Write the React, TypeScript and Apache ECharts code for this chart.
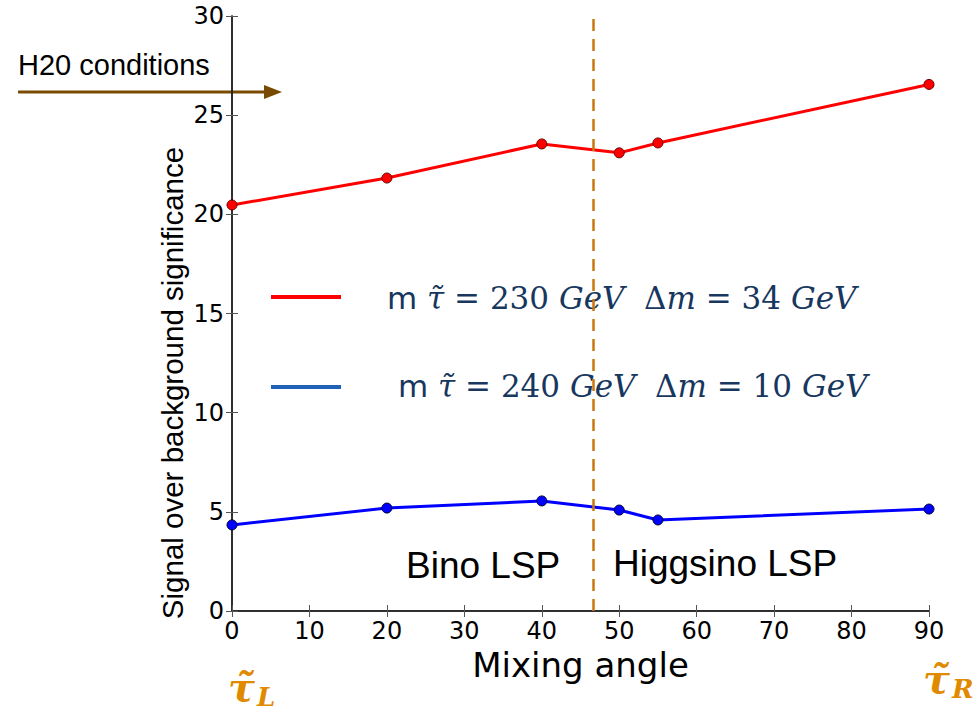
import React, { useEffect, useRef } from "react";
import * as echarts from "echarts";

const mixingAngles = [0, 20, 40, 50, 55, 90];
const sig230 = [20.47, 21.83, 23.55, 23.1, 23.6, 26.55];
const sig240 = [4.34, 5.19, 5.55, 5.09, 4.59, 5.14];
const xTicks = [0, 10, 20, 30, 40, 50, 60, 70, 80, 90];
const yTicks = [0, 5, 10, 15, 20, 25, 30];
const boundaryAngle = 46.7;
const legend230 = "m τ̃ = 230 GeV  Δm = 34 GeV";
const legend240 = "m τ̃ = 240 GeV  Δm = 10 GeV";

const GRID = { left: 232, top: 16, right: 51, bottom: 100 };

export default function App() {
  const ref = useRef<HTMLDivElement>(null);
  useEffect(() => {
    if (!ref.current) return;
    const chart = echarts.init(ref.current, null, { renderer: "svg" });
    const axisLine = { show: true, lineStyle: { color: "#222", width: 1.5 } };
    const tick = { show: true, inside: true, length: 6, lineStyle: { color: "#555", width: 1 } };
    const FS = 31;
    const NAVY = "#17375e";
    const mathRich = {
      u: { fontFamily: "DejaVu Serif", fontSize: FS, fill: NAVY },
      s: { fontFamily: "DejaVu Sans", fontSize: FS, fill: NAVY },
      i: { fontFamily: "DejaVu Serif", fontStyle: "italic", fontSize: FS, fill: NAVY },
    };
    const mkLegend = (txt: string) => {
      const m = txt.match(/^(m) (τ̃) = (\d+) (GeV)  (Δ)(m) = (\d+) (GeV)$/);
      if (!m) return txt;
      return `{s|${m[1]} }{i|${m[2]} }{u|= ${m[3]} }{i|${m[4]}  }{u|${m[5]}}{i|${m[6]} }{u|= ${m[7]} }{i|${m[8]}}`;
    };
    const ORANGE = "#e08a00";
    const tauRich = {
      t: { fontFamily: "DejaVu Serif", fontStyle: "italic", fontWeight: "bold", fontSize: 40, fill: ORANGE },
      s: { fontFamily: "DejaVu Serif", fontStyle: "italic", fontWeight: "bold", fontSize: 26, fill: ORANGE, padding: [22, 0, 0, 2] },
    };
    chart.setOption({
      animation: false,
      backgroundColor: "#fff",
      grid: GRID,
      xAxis: [
        {
          type: "value",
          min: 0,
          max: 90,
          interval: 10,
          position: "bottom",
          name: "Mixing angle",
          nameLocation: "middle",
          nameGap: 37,
          nameTextStyle: { fontFamily: "DejaVu Sans", fontSize: 34, color: "#000" },
          axisLine,
          axisTick: tick,
          splitLine: { show: false },
          axisLabel: {
            fontFamily: "DejaVu Sans",
            fontSize: 24,
            color: "#000",
            margin: 8,
            formatter: (v: number) => (xTicks.includes(v) ? String(v) : ""),
          },
        },
        {
          type: "value",
          min: 0,
          max: 90,
          interval: 10,
          position: "top",
          axisLine,
          axisTick: tick,
          splitLine: { show: false },
          axisLabel: { show: false },
        },
      ],
      yAxis: [
        {
          type: "value",
          min: 0,
          max: 30,
          interval: 5,
          position: "left",
          axisLine,
          axisTick: tick,
          splitLine: { show: false },
          axisLabel: {
            fontFamily: "DejaVu Sans",
            fontSize: 24,
            color: "#000",
            margin: 8,
            formatter: (v: number) => (yTicks.includes(v) ? String(v) : ""),
          },
        },
        {
          type: "value",
          min: 0,
          max: 30,
          interval: 5,
          position: "right",
          axisLine,
          axisTick: tick,
          splitLine: { show: false },
          axisLabel: { show: false },
        },
      ],
      series: [
        {
          name: legend230,
          type: "line",
          data: mixingAngles.map((x, i) => [x, sig230[i]]),
          symbol: "circle",
          symbolSize: 10,
          lineStyle: { color: "#ff0000", width: 3 },
          itemStyle: { color: "#ff0000", borderColor: "#600", borderWidth: 1 },
          z: 3,
          markLine: {
            silent: true,
            symbol: "none",
            label: { show: false },
            lineStyle: { color: "#c8780e", type: [12, 8], width: 2.5 },
            data: [{ xAxis: boundaryAngle }],
          },
        },
        {
          name: legend240,
          type: "line",
          data: mixingAngles.map((x, i) => [x, sig240[i]]),
          symbol: "circle",
          symbolSize: 10,
          lineStyle: { color: "#0000ff", width: 3 },
          itemStyle: { color: "#0000ff", borderColor: "#003", borderWidth: 1 },
          z: 3,
        },
      ],
      graphic: [
        {
          type: "text",
          x: 172,
          y: 383,
          rotation: Math.PI / 2,
          style: {
            text: "Signal over background significance",
            fontFamily: "Liberation Sans",
            fontSize: 29.5,
            fill: "#000",
            align: "center",
            verticalAlign: "middle",
          },
        },
        { type: "line", shape: { x1: 271, y1: 297, x2: 341, y2: 297 }, style: { stroke: "#ff0000", lineWidth: 4 } },
        { type: "line", shape: { x1: 271, y1: 387, x2: 341, y2: 387 }, style: { stroke: "#1f63b8", lineWidth: 4 } },
        {
          type: "text",
          x: 387,
          y: 298,
          style: { text: mkLegend(legend230), rich: mathRich, verticalAlign: "middle", fill: NAVY },
        },
        {
          type: "text",
          x: 398,
          y: 386,
          style: { text: mkLegend(legend240), rich: mathRich, verticalAlign: "middle", fill: NAVY },
        },
        {
          type: "text",
          x: 406,
          y: 565,
          style: { text: "Bino LSP", fontFamily: "Liberation Sans", fontSize: 37, fill: "#000", verticalAlign: "middle" },
        },
        {
          type: "text",
          x: 613,
          y: 563,
          style: { text: "Higgsino LSP", fontFamily: "Liberation Sans", fontSize: 37, fill: "#000", verticalAlign: "middle" },
        },
        {
          type: "text",
          x: 18,
          y: 65,
          style: { text: "H20 conditions", fontFamily: "Liberation Sans", fontSize: 29, fill: "#000", verticalAlign: "middle" },
        },
        { type: "line", shape: { x1: 18, y1: 92, x2: 266, y2: 92 }, style: { stroke: "#7a4a00", lineWidth: 3 } },
        {
          type: "polygon",
          shape: { points: [[264, 85], [282, 92], [264, 99]] },
          style: { fill: "#7a4a00" },
        },
        {
          type: "text",
          x: 228,
          y: 686,
          style: { text: "{t|τ̃}{s|L}", verticalAlign: "middle", rich: tauRich, fill: ORANGE },
        },
        {
          type: "text",
          x: 923,
          y: 678,
          style: { text: "{t|τ̃}{s|R}", verticalAlign: "middle", rich: tauRich, fill: ORANGE },
        },
      ],
    });
    return () => chart.dispose();
  }, []);
  return <div ref={ref} style={{ width: 980, height: 711, position: "absolute", left: 0, top: 0 }} />;
}
